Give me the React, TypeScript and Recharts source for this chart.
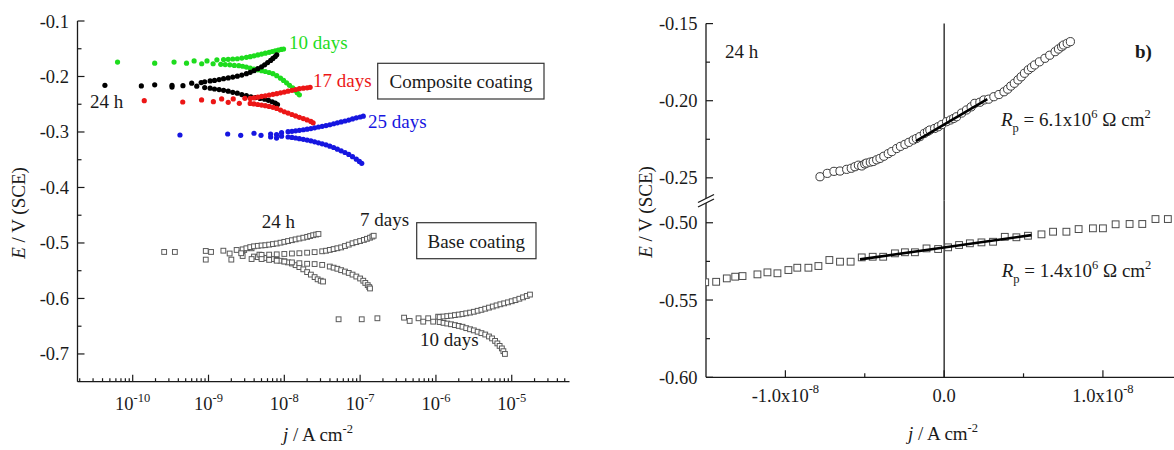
import React from "react";
import { ScatterChart, Scatter, XAxis, YAxis, ReferenceLine } from "recharts";

type Pt = [number, number]; // [j (A cm-2), E (V vs SCE)]

// ---------- panel a: polarization curves, log j ----------
const comp24hRest: Pt[] = [[4.3e-11, -0.216], [1.3e-10, -0.217], [1.95e-10, -0.215], [3.3e-10, -0.216], [3.3e-10, -0.219], [4.6e-10, -0.2165], [6.0e-10, -0.212], [7.0e-10, -0.2175], [8.0e-10, -0.211]];
const comp24hAnodic: Pt[] = [[8.91e-10, -0.2095], [1.05e-9, -0.208], [1.2e-9, -0.207], [1.38e-9, -0.2055], [1.58e-9, -0.204], [1.82e-9, -0.2025], [2.09e-9, -0.201], [2.4e-9, -0.1995], [2.75e-9, -0.1975], [3.16e-9, -0.195], [3.55e-9, -0.1925], [3.98e-9, -0.1895], [4.47e-9, -0.186], [5.01e-9, -0.1825], [5.5e-9, -0.179], [6.03e-9, -0.175], [6.61e-9, -0.171], [7.08e-9, -0.1675], [7.59e-9, -0.164], [7.94e-9, -0.161]];
const comp24hCathodic: Pt[] = [[8.91e-10, -0.22], [1.05e-9, -0.221], [1.2e-9, -0.2225], [1.38e-9, -0.2235], [1.58e-9, -0.225], [1.82e-9, -0.2265], [2.09e-9, -0.2285], [2.4e-9, -0.23], [2.75e-9, -0.2325], [3.16e-9, -0.2345], [3.63e-9, -0.2365], [4.17e-9, -0.238], [4.79e-9, -0.2395], [5.5e-9, -0.241], [6.17e-9, -0.243], [6.92e-9, -0.2455], [7.59e-9, -0.248], [8.13e-9, -0.2505]];

const comp10dRest: Pt[] = [[6.31e-11, -0.174], [1.95e-10, -0.176], [3.51e-10, -0.174], [5.13e-10, -0.176], [6.46e-10, -0.172], [8.13e-10, -0.177], [9.55e-10, -0.172], [1.15e-9, -0.177], [1.29e-9, -0.17], [1.45e-9, -0.178]];
const comp10dAnodic: Pt[] = [[1.58e-9, -0.1695], [1.82e-9, -0.169], [2.09e-9, -0.1685], [2.4e-9, -0.168], [2.75e-9, -0.1668], [3.16e-9, -0.1655], [3.55e-9, -0.1643], [3.98e-9, -0.1627], [4.47e-9, -0.1611], [5.01e-9, -0.1596], [5.62e-9, -0.158], [6.31e-9, -0.1564], [6.92e-9, -0.155], [7.59e-9, -0.1538], [8.32e-9, -0.1525], [9.12e-9, -0.1513], [9.77e-9, -0.1505]];
const comp10dCathodic: Pt[] = [[1.66e-9, -0.1785], [1.91e-9, -0.179], [2.19e-9, -0.18], [2.51e-9, -0.1805], [2.82e-9, -0.1815], [3.16e-9, -0.183], [3.55e-9, -0.185], [3.98e-9, -0.1865], [4.47e-9, -0.188], [5.01e-9, -0.1895], [5.62e-9, -0.191], [6.31e-9, -0.1928], [7.08e-9, -0.195], [7.94e-9, -0.1985], [8.91e-9, -0.203], [9.77e-9, -0.207], [1.07e-8, -0.2115], [1.17e-8, -0.216], [1.29e-8, -0.2205], [1.38e-8, -0.225], [1.48e-8, -0.2295], [1.58e-8, -0.233]];

const comp17dRest: Pt[] = [[1.42e-10, -0.2436], [4.57e-10, -0.246], [8.1e-10, -0.2423], [1.16e-9, -0.2454], [1.49e-9, -0.2405], [1.82e-9, -0.2465], [2.12e-9, -0.2405], [2.55e-9, -0.2483], [3.02e-9, -0.2393]];
const comp17dAnodic: Pt[] = [[3.55e-9, -0.2395], [3.98e-9, -0.2385], [4.47e-9, -0.2372], [5.01e-9, -0.236], [5.62e-9, -0.2348], [6.31e-9, -0.2335], [7.08e-9, -0.2322], [7.94e-9, -0.231], [8.91e-9, -0.2295], [1.0e-8, -0.228], [1.12e-8, -0.2265], [1.26e-8, -0.225], [1.41e-8, -0.2235], [1.58e-8, -0.222], [1.78e-8, -0.221], [2.0e-8, -0.2205], [2.19e-8, -0.2195]];
const comp17dCathodic: Pt[] = [[3.55e-9, -0.2485], [3.98e-9, -0.2495], [4.47e-9, -0.2505], [5.01e-9, -0.2515], [5.62e-9, -0.2525], [6.31e-9, -0.254], [7.08e-9, -0.2555], [7.94e-9, -0.2575], [8.91e-9, -0.2605], [1.0e-8, -0.2635], [1.12e-8, -0.266], [1.26e-8, -0.2685], [1.41e-8, -0.271], [1.58e-8, -0.2735], [1.78e-8, -0.2758], [2.0e-8, -0.2782], [2.24e-8, -0.281], [2.4e-8, -0.2835]];

const comp25dRest: Pt[] = [[4.2e-10, -0.3054], [1.79e-9, -0.3036], [2.66e-9, -0.306], [3.98e-9, -0.3023], [4.93e-9, -0.306], [6.6e-9, -0.3036], [6.6e-9, -0.309], [7.9e-9, -0.3049], [7.9e-9, -0.311], [9.2e-9, -0.3013], [9.2e-9, -0.3075]];
const comp25dAnodic: Pt[] = [[1.12e-8, -0.2995], [1.26e-8, -0.2988], [1.41e-8, -0.298], [1.58e-8, -0.297], [1.78e-8, -0.296], [2.0e-8, -0.295], [2.24e-8, -0.2938], [2.51e-8, -0.2925], [2.82e-8, -0.291], [3.16e-8, -0.2898], [3.55e-8, -0.2885], [3.98e-8, -0.287], [4.47e-8, -0.2852], [5.01e-8, -0.2835], [5.62e-8, -0.2818], [6.31e-8, -0.2802], [7.08e-8, -0.2785], [7.94e-8, -0.2765], [8.91e-8, -0.2745], [1.0e-7, -0.273], [1.1e-7, -0.2715]];
const comp25dCathodic: Pt[] = [[1.12e-8, -0.309], [1.26e-8, -0.3098], [1.41e-8, -0.3108], [1.58e-8, -0.312], [1.78e-8, -0.3133], [2.0e-8, -0.3146], [2.24e-8, -0.316], [2.51e-8, -0.3178], [2.82e-8, -0.3195], [3.16e-8, -0.3213], [3.55e-8, -0.3232], [3.98e-8, -0.3255], [4.47e-8, -0.328], [5.01e-8, -0.331], [5.62e-8, -0.334], [6.31e-8, -0.337], [7.08e-8, -0.3405], [7.94e-8, -0.3445], [8.91e-8, -0.349], [9.77e-8, -0.353], [1.05e-7, -0.3565]];

const base24hRest: Pt[] = [[2.6e-10, -0.5162], [3.6e-10, -0.5162], [9.2e-10, -0.5144], [1.08e-9, -0.5162], [1.57e-9, -0.5139], [2.35e-9, -0.5126], [2.96e-9, -0.5126], [3.7e-9, -0.5096]];
const base24hAnodic: Pt[] = [[2.82e-9, -0.5115], [3.16e-9, -0.5095], [3.55e-9, -0.5075], [3.98e-9, -0.506], [4.47e-9, -0.5052], [5.01e-9, -0.5045], [5.62e-9, -0.504], [6.31e-9, -0.503], [7.08e-9, -0.502], [7.94e-9, -0.501], [8.91e-9, -0.4995], [1.0e-8, -0.498], [1.12e-8, -0.4965], [1.26e-8, -0.495], [1.41e-8, -0.4935], [1.58e-8, -0.492], [1.78e-8, -0.4905], [2.0e-8, -0.489], [2.19e-8, -0.4875], [2.4e-8, -0.486], [2.63e-8, -0.4848], [2.82e-8, -0.4838]];
const base24hCathodic: Pt[] = [[2.82e-9, -0.5235], [3.98e-9, -0.5245], [4.47e-9, -0.5255], [5.01e-9, -0.526], [5.62e-9, -0.527], [6.31e-9, -0.528], [7.08e-9, -0.529], [7.94e-9, -0.5305], [8.91e-9, -0.532], [1.0e-8, -0.533], [1.12e-8, -0.535], [1.26e-8, -0.537], [1.41e-8, -0.54], [1.58e-8, -0.5435], [1.78e-8, -0.5475], [2.0e-8, -0.5525], [2.24e-8, -0.557], [2.51e-8, -0.5615], [2.75e-8, -0.5655], [3.02e-8, -0.568], [3.24e-8, -0.5695]];

const base7dRest: Pt[] = [[9.2e-10, -0.53], [1.9e-9, -0.519], [2.0e-9, -0.53], [2.7e-9, -0.5185], [3.7e-9, -0.529], [4.7e-9, -0.521]];
const base7dAnodic: Pt[] = [[5.01e-9, -0.5215], [6.31e-9, -0.521], [7.94e-9, -0.5205], [1.0e-8, -0.5198], [1.26e-8, -0.519], [1.58e-8, -0.5185], [2.0e-8, -0.5175], [2.51e-8, -0.5165], [3.16e-8, -0.515], [3.55e-8, -0.514], [3.98e-8, -0.5125], [4.47e-8, -0.511], [5.01e-8, -0.5095], [5.62e-8, -0.508], [6.31e-8, -0.5055], [7.08e-8, -0.503], [7.94e-8, -0.5005], [8.91e-8, -0.4985], [1.0e-7, -0.4965], [1.12e-7, -0.4945], [1.23e-7, -0.4925], [1.35e-7, -0.4905], [1.45e-7, -0.4885], [1.51e-7, -0.487]];
const base7dCathodic: Pt[] = [[5.01e-9, -0.529], [6.31e-9, -0.5305], [7.94e-9, -0.532], [1.0e-8, -0.5335], [1.26e-8, -0.535], [1.58e-8, -0.5365], [2.0e-8, -0.5375], [2.51e-8, -0.538], [3.16e-8, -0.5395], [3.98e-8, -0.5425], [4.47e-8, -0.5445], [5.01e-8, -0.5465], [5.62e-8, -0.549], [6.31e-8, -0.5515], [7.08e-8, -0.554], [7.94e-8, -0.557], [8.91e-8, -0.5605], [1.0e-7, -0.564], [1.1e-7, -0.568], [1.17e-7, -0.572], [1.26e-7, -0.576], [1.32e-7, -0.5795], [1.35e-7, -0.582]];

const base10dRest: Pt[] = [[5.2e-8, -0.6375], [1.05e-7, -0.6375], [1.69e-7, -0.6357], [3.8e-7, -0.6346], [4.5e-7, -0.6405], [5.9e-7, -0.6357], [6.8e-7, -0.6418], [7.9e-7, -0.6357], [9.2e-7, -0.6418], [1.07e-6, -0.6328]];
const base10dAnodic: Pt[] = [[1.12e-6, -0.6335], [1.26e-6, -0.6325], [1.41e-6, -0.6318], [1.58e-6, -0.631], [1.78e-6, -0.63], [2.0e-6, -0.629], [2.24e-6, -0.628], [2.51e-6, -0.6268], [2.82e-6, -0.6255], [3.16e-6, -0.624], [3.55e-6, -0.6222], [3.98e-6, -0.6205], [4.47e-6, -0.6185], [5.01e-6, -0.6165], [5.62e-6, -0.6145], [6.31e-6, -0.6125], [7.08e-6, -0.6105], [7.94e-6, -0.6088], [8.91e-6, -0.607], [1.0e-5, -0.605], [1.12e-5, -0.603], [1.26e-5, -0.6005], [1.41e-5, -0.598], [1.58e-5, -0.5955], [1.74e-5, -0.593]];
const base10dCathodic: Pt[] = [[1.12e-6, -0.6425], [1.26e-6, -0.644], [1.41e-6, -0.6452], [1.58e-6, -0.6465], [1.78e-6, -0.648], [2.0e-6, -0.6495], [2.24e-6, -0.651], [2.51e-6, -0.6535], [2.82e-6, -0.6555], [3.16e-6, -0.6575], [3.55e-6, -0.66], [3.98e-6, -0.6625], [4.47e-6, -0.665], [5.01e-6, -0.6685], [5.5e-6, -0.672], [6.03e-6, -0.6765], [6.46e-6, -0.681], [6.92e-6, -0.6855], [7.41e-6, -0.69], [7.76e-6, -0.695], [8.13e-6, -0.7]];

// ---------- panel b: linear polarization, 24 h ----------
const lprComposite: Pt[] = [[-0.782e-8, -0.2493], [-0.736e-8, -0.2471], [-0.694e-8, -0.2458], [-0.656e-8, -0.2456], [-0.614e-8, -0.2445], [-0.585e-8, -0.2438], [-0.562e-8, -0.2428], [-0.54e-8, -0.2418], [-0.519e-8, -0.2423], [-0.5e-8, -0.241], [-0.488e-8, -0.2404], [-0.465e-8, -0.2398], [-0.447e-8, -0.2394], [-0.425e-8, -0.2383], [-0.404e-8, -0.2374], [-0.38e-8, -0.236], [-0.352e-8, -0.2343], [-0.33e-8, -0.233], [-0.299e-8, -0.231], [-0.275e-8, -0.2296], [-0.247e-8, -0.2283], [-0.222e-8, -0.227], [-0.195e-8, -0.2255], [-0.175e-8, -0.2245], [-0.153e-8, -0.2233], [-0.125e-8, -0.2212], [-0.105e-8, -0.22], [-0.09e-8, -0.219], [-0.06e-8, -0.218], [-0.038e-8, -0.2169], [-0.015e-8, -0.2155], [0.015e-8, -0.2136], [0.04e-8, -0.2125], [0.06e-8, -0.2115], [0.078e-8, -0.2104], [0.11e-8, -0.208], [0.141e-8, -0.206], [0.17e-8, -0.204], [0.193e-8, -0.2017], [0.225e-8, -0.201], [0.25e-8, -0.1995], [0.28e-8, -0.199], [0.313e-8, -0.1974], [0.345e-8, -0.196], [0.377e-8, -0.1942], [0.4e-8, -0.1925], [0.42e-8, -0.1905], [0.442e-8, -0.1887], [0.465e-8, -0.1865], [0.485e-8, -0.1845], [0.506e-8, -0.1822], [0.53e-8, -0.18], [0.55e-8, -0.1785], [0.57e-8, -0.1768], [0.6e-8, -0.1748], [0.635e-8, -0.1725], [0.665e-8, -0.1705], [0.699e-8, -0.1682], [0.72e-8, -0.1665], [0.74e-8, -0.165], [0.752e-8, -0.1639], [0.775e-8, -0.1628], [0.795e-8, -0.1617]];
const lprBase: Pt[] = [[-1.505e-8, -0.5385], [-1.436e-8, -0.5382], [-1.369e-8, -0.536], [-1.316e-8, -0.5349], [-1.27e-8, -0.5345], [-1.176e-8, -0.5334], [-1.113e-8, -0.5321], [-1.05e-8, -0.5327], [-0.981e-8, -0.5306], [-0.925e-8, -0.5291], [-0.855e-8, -0.5291], [-0.792e-8, -0.528], [-0.723e-8, -0.5241], [-0.656e-8, -0.5252], [-0.589e-8, -0.5252], [-0.519e-8, -0.5224], [-0.45e-8, -0.522], [-0.384e-8, -0.522], [-0.31e-8, -0.5198], [-0.247e-8, -0.5191], [-0.184e-8, -0.5191], [-0.111e-8, -0.5166], [-0.038e-8, -0.517], [0.025e-8, -0.5159], [0.094e-8, -0.5144], [0.162e-8, -0.5133], [0.235e-8, -0.5127], [0.308e-8, -0.5123], [0.382e-8, -0.5091], [0.455e-8, -0.5094], [0.528e-8, -0.5084], [0.613e-8, -0.5075], [0.686e-8, -0.5058], [0.77e-8, -0.5058], [0.847e-8, -0.5041], [0.937e-8, -0.5036], [1.0e-8, -0.5036], [1.08e-8, -0.501], [1.168e-8, -0.5008], [1.248e-8, -0.5008], [1.331e-8, -0.4976], [1.409e-8, -0.4976]];
const fitComposite: Pt[] = [[-0.178e-8, -0.2262], [0.272e-8, -0.199]];
const fitBase: Pt[] = [[-0.53e-8, -0.5237], [0.55e-8, -0.508]];

// ---------- axes ----------
const J_LOG_DOMAIN: [number, number] = [1.87e-11, 5.78e-5];
const logDecades = [-11, -10, -9, -8, -7, -6, -5];
const logMantissas = [1, 2, 3, 4, 5, 6, 7, 8, 9];
const logTicks = logDecades
  .flatMap((d) => logMantissas.map((m) => m * Math.pow(10, d)))
  .filter((v) => v >= J_LOG_DOMAIN[0] && v <= J_LOG_DOMAIN[1]);
const leftPanelYTicks = [-0.7, -0.65, -0.6, -0.55, -0.5, -0.45, -0.4, -0.35, -0.3, -0.25, -0.2, -0.15, -0.1];
const linXTicks = [-1e-8, -0.5e-8, 0, 0.5e-8, 1e-8];
const upperYTicks = [-0.25, -0.225, -0.2, -0.175, -0.15];
const lowerYTicks = [-0.6, -0.575, -0.55, -0.525, -0.5];

const SERIF = "'Liberation Serif', 'Times New Roman', Times, serif";
const INK = "#1a1a1a";
const GREEN = "#1edc1e";
const RED = "#ec1616";
const BLUE = "#1616e0";
const FS = 19;

const rows = (...parts: Pt[][]) => parts.flat().map(([j, E]) => ({ j, E }));

const near = (a: number, b: number) => Math.abs(a - b) < 1e-9;
const isMajorLog = (v: number) => near(Math.log10(v), Math.round(Math.log10(v)));
const isTenth = (v: number) => near(v * 10, Math.round(v * 10));
const isTwentieth = (v: number) => near(v * 20, Math.round(v * 20));

// ticks are drawn inward by hand: tickSize=0 / tickMargin=0 puts x,y on the axis line
const logBottomTick = (p: any) => {
  const v = p.payload.value as number;
  const major = isMajorLog(v);
  return (
    <g>
      <line x1={p.x} x2={p.x} y1={p.y} y2={p.y - (major ? 7 : 3.5)} stroke={INK} strokeWidth={1.2} />
      {major && (
        <text x={p.x} y={p.y + 28} textAnchor="middle" fontFamily={SERIF} fontSize={18.5} fill={INK}>
          10<tspan dy={-8} fontSize={12.5}>{Math.round(Math.log10(v))}</tspan>
        </text>
      )}
    </g>
  );
};
const logTopTick = (p: any) => {
  const major = isMajorLog(p.payload.value);
  return <line x1={p.x} x2={p.x} y1={p.y} y2={p.y + (major ? 7 : 3.5)} stroke={INK} strokeWidth={1.2} />;
};
const leftTick = (isMajor: (v: number) => boolean, digits: number) => (p: any) => {
  const v = p.payload.value as number;
  const major = isMajor(v);
  return (
    <g>
      <line x1={p.x} x2={p.x + (major ? 7 : 4)} y1={p.y} y2={p.y} stroke={INK} strokeWidth={1.2} />
      {major && (
        <text x={p.x - 8.5} y={p.y + 6.5} textAnchor="end" fontFamily={SERIF} fontSize={18.5} fill={INK}>
          {v.toFixed(digits)}
        </text>
      )}
    </g>
  );
};
const rightTick = (isMajor: (v: number) => boolean) => (p: any) => {
  const major = isMajor(p.payload.value);
  return <line x1={p.x} x2={p.x - (major ? 7 : 4)} y1={p.y} y2={p.y} stroke={INK} strokeWidth={1.2} />;
};
const isMajorLin = (v: number) => near(v * 1e8, Math.round(v * 1e8));
const linBottomTick = (p: any) => {
  const v = p.payload.value as number;
  const major = isMajorLin(v);
  const label = v === 0 ? "0.0" : `${v < 0 ? "-" : ""}1.0x10`;
  return (
    <g>
      <line x1={p.x} x2={p.x} y1={p.y} y2={p.y - (major ? 7 : 4)} stroke={INK} strokeWidth={1.2} />
      {major && (
        <text x={p.x} y={p.y + 25} textAnchor="middle" fontFamily={SERIF} fontSize={18.5} fill={INK}>
          {label}
          {v !== 0 && <tspan dy={-9} fontSize={12.5}>-8</tspan>}
        </text>
      )}
    </g>
  );
};
const linTopTick = (p: any) => {
  const major = isMajorLin(p.payload.value);
  return <line x1={p.x} x2={p.x} y1={p.y} y2={p.y + (major ? 7 : 4)} stroke={INK} strokeWidth={1.2} />;
};

const dot = (fill: string) => (p: any) => <circle cx={p.cx} cy={p.cy} r={2.6} fill={fill} />;
const square = (s: number, stroke: string) => (p: any) => (
  <rect x={p.cx - s / 2} y={p.cy - s / 2} width={s} height={s} fill="#fff" stroke={stroke} strokeWidth={1} />
);
const ring = (p: any) => <circle cx={p.cx} cy={p.cy} r={4.1} fill="#fff" stroke="#3a3a3a" strokeWidth={1} />;
const none = () => <g />;

const axisLine = { stroke: INK, strokeWidth: 1.3 };

function TafelPanel() {
  return (
    <ScatterChart width={600} height={450} margin={{ top: 21, right: 30.5, bottom: 0, left: 17.5 }}>
      <XAxis type="number" dataKey="j" scale="log" domain={J_LOG_DOMAIN} allowDataOverflow ticks={logTicks}
        interval={0} tickSize={0} tickMargin={0} tickLine={false} tick={logBottomTick} height={68.3} axisLine={axisLine} />
      <XAxis xAxisId="top" orientation="top" type="number" dataKey="j" scale="log" domain={J_LOG_DOMAIN} allowDataOverflow
        ticks={logTicks} interval={0} tickSize={0} tickMargin={0} tickLine={false} tick={logTopTick} height={0} axisLine={axisLine} />
      <YAxis type="number" dataKey="E" domain={[-0.75, -0.1]} allowDataOverflow ticks={leftPanelYTicks} interval={0}
        tickSize={0} tickMargin={0} tickLine={false} tick={leftTick(isTenth, 1)} width={60} axisLine={axisLine} />
      <YAxis yAxisId="right" orientation="right" type="number" dataKey="E" domain={[-0.75, -0.1]} allowDataOverflow
        ticks={leftPanelYTicks} interval={0} tickSize={0} tickMargin={0} tickLine={false} tick={rightTick(isTenth)} width={0} axisLine={axisLine} />
      <Scatter data={rows(comp10dRest, comp10dAnodic, comp10dCathodic)} shape={dot(GREEN)} isAnimationActive={false} />
      <Scatter data={rows(comp24hRest, comp24hAnodic, comp24hCathodic)} shape={dot("#000")} isAnimationActive={false} />
      <Scatter data={rows(comp17dRest, comp17dAnodic, comp17dCathodic)} shape={dot(RED)} isAnimationActive={false} />
      <Scatter data={rows(comp25dRest, comp25dAnodic, comp25dCathodic)} shape={dot(BLUE)} isAnimationActive={false} />
      <Scatter data={rows(base24hRest, base24hAnodic, base24hCathodic)} shape={square(4.8, "#5a5a5a")} isAnimationActive={false} />
      <Scatter data={rows(base7dRest, base7dAnodic, base7dCathodic)} shape={square(4.8, "#5a5a5a")} isAnimationActive={false} />
      <Scatter data={rows(base10dRest, base10dAnodic, base10dCathodic)} shape={square(4.8, "#5a5a5a")} isAnimationActive={false} />
    </ScatterChart>
  );
}

const LIN_DOMAIN: [number, number] = [-1.5e-8, 1.5e-8];
const UPPER_DOMAIN: [number, number] = [-0.2647, -0.15];
const LOWER_DOMAIN: [number, number] = [-0.6, -0.4856];

function LprUpper() {
  return (
    <ScatterChart width={560} height={200.5} margin={{ top: 23.6, right: 17.7, bottom: 0, left: 6 }}>
      <XAxis orientation="top" type="number" dataKey="j" domain={LIN_DOMAIN} allowDataOverflow ticks={linXTicks} interval={0}
        tickSize={0} tickMargin={0} tickLine={false} tick={linTopTick} height={0} axisLine={axisLine} />
      <YAxis type="number" dataKey="E" domain={UPPER_DOMAIN} allowDataOverflow ticks={upperYTicks} interval={0}
        tickSize={0} tickMargin={0} tickLine={false} tick={leftTick(isTwentieth, 2)} width={60} axisLine={axisLine} />
      <ReferenceLine x={0} stroke={INK} strokeWidth={1.3} />
      <Scatter data={rows(lprComposite)} shape={ring} isAnimationActive={false} />
      <Scatter data={rows(fitComposite)} shape={none} line={{ stroke: "#000", strokeWidth: 2.6 }} isAnimationActive={false} />
    </ScatterChart>
  );
}

function LprLower() {
  return (
    <ScatterChart width={560} height={450} margin={{ top: 200.5, right: 17.7, bottom: 0, left: 6 }}>
      <XAxis type="number" dataKey="j" domain={LIN_DOMAIN} allowDataOverflow ticks={linXTicks} interval={0}
        tickSize={0} tickMargin={0} tickLine={false} tick={linBottomTick} height={72.7} axisLine={axisLine} />
      <YAxis type="number" dataKey="E" domain={LOWER_DOMAIN} allowDataOverflow ticks={lowerYTicks} interval={0}
        tickSize={0} tickMargin={0} tickLine={false} tick={leftTick(isTwentieth, 2)} width={60} axisLine={axisLine} />
      <ReferenceLine x={0} stroke={INK} strokeWidth={1.3} />
      <Scatter data={rows(lprBase)} shape={square(6.8, "#4a4a4a")} isAnimationActive={false} />
      <Scatter data={rows(fitBase)} shape={none} line={{ stroke: "#000", strokeWidth: 2.6 }} isAnimationActive={false} />
    </ScatterChart>
  );
}

function Annotations() {
  const t = { fontFamily: SERIF, fontSize: FS, fill: INK };
  return (
    <svg width={1174} height={450} style={{ position: "absolute", left: 0, top: 0, pointerEvents: "none" }}>
      {/* axis titles */}
      <text {...t} transform="translate(25,213) rotate(-90)" textAnchor="middle">
        <tspan fontStyle="italic">E</tspan> / V (SCE)
      </text>
      <text {...t} transform="translate(652,212) rotate(-90)" textAnchor="middle">
        <tspan fontStyle="italic">E</tspan> / V (SCE)
      </text>
      <text {...t} x={318} y={441} textAnchor="middle">
        <tspan fontStyle="italic">j</tspan> / A cm<tspan dy={-8} fontSize={12.5}>-2</tspan>
      </text>
      <text {...t} x={943} y={440} textAnchor="middle">
        <tspan fontStyle="italic">j</tspan> / A cm<tspan dy={-8} fontSize={12.5}>-2</tspan>
      </text>

      {/* panel a labels */}
      <text {...t} x={289} y={49} fill={GREEN}>10 days</text>
      <text {...t} x={90} y={108}>24 h</text>
      <text {...t} x={313} y={87} fill={RED}>17 days</text>
      <text {...t} x={368} y={128} fill={BLUE}>25 days</text>
      <rect x={377.7} y={63.3} width={166.3} height={35.7} fill="#fff" stroke="#333" strokeWidth={1.2} />
      <text {...t} x={461} y={87.5} textAnchor="middle">Composite coating</text>
      <text {...t} x={261.7} y={228}>24 h</text>
      <text {...t} x={360} y={226}>7 days</text>
      <rect x={416.7} y={222.7} width={119.3} height={36} fill="#fff" stroke="#333" strokeWidth={1.2} />
      <text {...t} x={476.3} y={247.5} textAnchor="middle">Base coating</text>
      <text {...t} x={420} y={346}>10 days</text>

      {/* panel b labels */}
      <text {...t} x={725} y={58}>24 h</text>
      <text {...t} x={1135} y={58} fontWeight="bold">b)</text>
      <text {...t} x={1001} y={126}>
        <tspan fontStyle="italic">R</tspan>
        <tspan dy={6} fontSize={12.5}>p</tspan>
        <tspan dy={-6}> = 6.1x10</tspan>
        <tspan dy={-8} fontSize={12.5}>6</tspan>
        <tspan dy={8}> Ω cm</tspan>
        <tspan dy={-8} fontSize={12.5}>2</tspan>
      </text>
      <text {...t} x={1001.7} y={277}>
        <tspan fontStyle="italic">R</tspan>
        <tspan dy={6} fontSize={12.5}>p</tspan>
        <tspan dy={-6}> = 1.4x10</tspan>
        <tspan dy={-8} fontSize={12.5}>6</tspan>
        <tspan dy={8}> Ω cm</tspan>
        <tspan dy={-8} fontSize={12.5}>2</tspan>
      </text>

      {/* axis break */}
      <polygon points="698,202.5 714,194.5 714,199 698,207" fill="#fff" />
      <line x1={698} y1={202.5} x2={714} y2={194.5} stroke={INK} strokeWidth={1.3} />
      <line x1={698} y1={207} x2={714} y2={199} stroke={INK} strokeWidth={1.3} />
    </svg>
  );
}

export default function App() {
  return (
    <div style={{ position: "absolute", left: 0, top: 0, width: 1174, height: 450, overflow: "hidden", background: "#fff", fontFamily: SERIF }}>
      <div style={{ position: "absolute", left: 0, top: 0 }}>
        <TafelPanel />
      </div>
      <div style={{ position: "absolute", left: 640, top: 0 }}>
        <LprUpper />
      </div>
      <div style={{ position: "absolute", left: 640, top: 0 }}>
        <LprLower />
      </div>
      <Annotations />
    </div>
  );
}
